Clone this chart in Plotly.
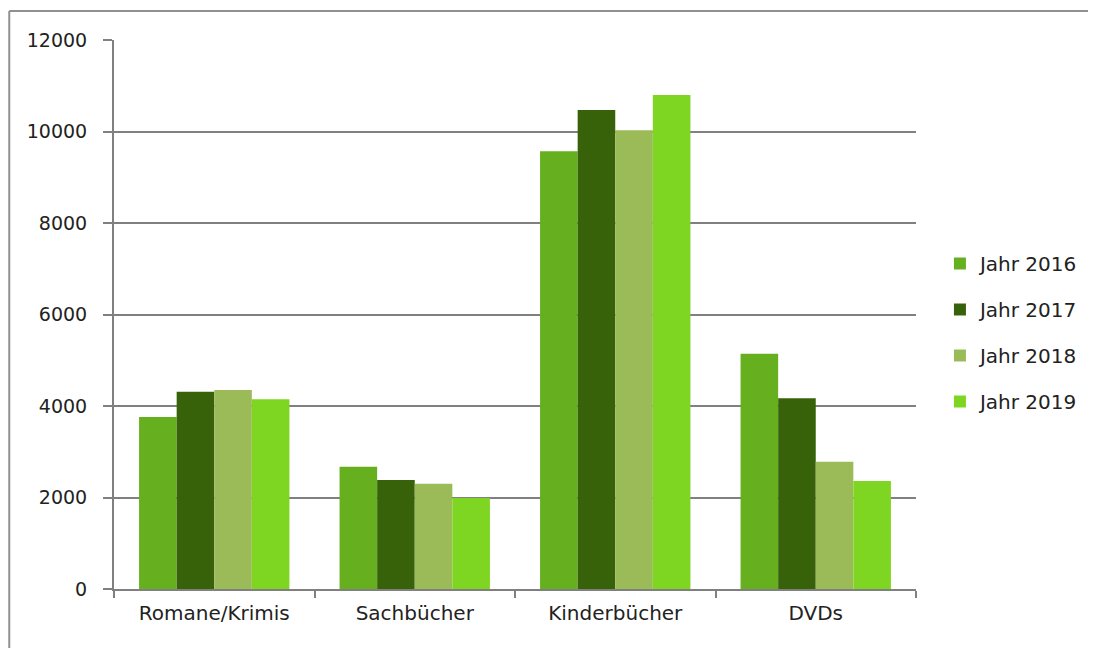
import plotly.graph_objects as go

categories = ["Romane/Krimis", "Sachbücher", "Kinderbücher", "DVDs"]
series_names = ["Jahr 2016", "Jahr 2017", "Jahr 2018", "Jahr 2019"]
values_2016 = [3760, 2670, 9570, 5140]
values_2017 = [4310, 2380, 10470, 4170]
values_2018 = [4350, 2300, 10030, 2780]
values_2019 = [4150, 1990, 10800, 2360]
colors = ["#66b01f", "#38620a", "#9bbb59", "#7fd622"]
y_ticks = [0, 2000, 4000, 6000, 8000, 10000, 12000]
y_tick_labels = ["0", "2000", "4000", "6000", "8000", "10000", "12000"]

# page body has an 8px margin, so the figure starts at page (8, 8)
W, H = 1088, 640
L, R, T, B = 106, 178, 32, 59
pw, ph = W - L - R, H - T - B

fig = go.Figure()
for name, vals, col in zip(series_names, [values_2016, values_2017, values_2018, values_2019], colors):
    fig.add_trace(go.Bar(x=categories, y=vals, name=name, marker=dict(color=col, line=dict(width=0)),
                         legendgroup=name))

def px_x(p):
    return (p - L) / pw

def px_y(p):
    return (H - B - p) / ph

FONT = "DejaVu Sans, Verdana, sans-serif"

fig.update_layout(
    width=W, height=H,
    margin=dict(l=L, r=R, t=T, b=B),
    paper_bgcolor="white", plot_bgcolor="white",
    barmode="group", bargap=0.25, bargroupgap=0,
    font=dict(family=FONT, size=19, color="#222222"),
    legend=dict(x=px_x(934), y=px_y(236), xanchor="left", yanchor="top",
                font=dict(size=20, family=FONT), tracegroupgap=17, itemwidth=30,
                bgcolor="rgba(0,0,0,0)"),
    xaxis=dict(showline=True, linecolor="#808080", linewidth=2, ticks="outside",
               tickson="boundaries", ticklen=7, tickcolor="#808080", tickwidth=2,
               showgrid=False, tickfont=dict(size=20, family=FONT), ticklabelstandoff=5),
    yaxis=dict(range=[0, 12000], tickvals=y_ticks, ticktext=y_tick_labels, showline=True,
               linecolor="#808080", linewidth=2, ticks="outside", ticklen=9,
               tickcolor="#808080", tickwidth=2,
               showgrid=True, gridcolor="#808080", gridwidth=2, zeroline=False,
               tickfont=dict(size=19, family=FONT), ticklabelstandoff=12),
    shapes=[
        dict(type="line", xref="paper", yref="paper",
             x0=px_x(1), x1=px_x(W), y0=px_y(3), y1=px_y(3),
             line=dict(color="#909090", width=2), layer="below"),
        dict(type="line", xref="paper", yref="paper",
             x0=px_x(1), x1=px_x(1), y0=px_y(3), y1=px_y(H),
             line=dict(color="#909090", width=2), layer="below"),
    ],
)

fig.write_html("out.html")
